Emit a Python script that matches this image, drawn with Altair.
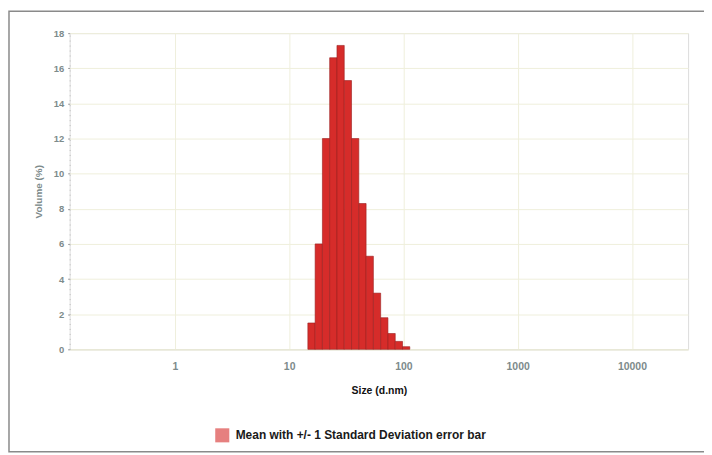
import altair as alt
import pandas as pd
import numpy as np

# Bin centres (d.nm) and volume (%)
sizes = [15.69, 18.17, 21.04, 24.36, 28.21, 32.67, 37.84, 43.82, 50.75, 58.77, 68.06, 78.82, 91.28, 105.7]
volume = [1.5, 6.0, 12.0, 16.6, 17.3, 15.3, 12.0, 8.3, 5.3, 3.2, 1.8, 0.9, 0.45, 0.15]
series = "Mean with +/- 1 Standard Deviation error bar"
x_ticks = [1, 10, 100, 1000, 10000]
y_ticks = [0, 2, 4, 6, 8, 10, 12, 14, 16, 18]

step = np.log10(sizes[1] / sizes[0]) / 2
df = pd.DataFrame({
    "lo": [s / 10 ** step for s in sizes],
    "hi": [s * 10 ** step for s in sizes],
    "vol": volume,
    "series": [series] * len(sizes),
})

W, H = 622, 318
FONT = "Liberation Sans"
GRAY = "#7d8b8b"

bars = alt.Chart(df).mark_rect(stroke="#9a1f1f", strokeWidth=0.6).encode(
    x=alt.X("lo:Q", scale=alt.Scale(type="log", domain=[0.12, 31000], nice=False),
            axis=alt.Axis(values=x_ticks, format="d", title="Size (d.nm)",
                          labelColor=GRAY, labelFontWeight="bold", labelFontSize=10.5,
                          labelFont=FONT, titleFont=FONT, titleFontSize=10.5,
                          titleFontWeight="bold", titleColor="#111111",
                          titlePadding=14, labelPadding=12,
                          domainColor="#e6e6d2", ticks=False,
                          gridColor="#efefdc", grid=True)),
    x2="hi:Q",
    y=alt.Y("vol:Q", scale=alt.Scale(domain=[0, 18], nice=False),
            axis=alt.Axis(values=y_ticks, title="Volume (%)", labelColor=GRAY,
                          labelFontWeight="bold", labelFontSize=9.5, labelFont=FONT,
                          titleFont=FONT, titleFontSize=10, titleFontWeight="bold",
                          titleColor=GRAY, titlePadding=10, labelPadding=4,
                          domainColor="#bbbbbb", domainDash=[1, 4], tickSize=2,
                          tickColor="#999999", gridColor="#efefdc")),
    y2=alt.datum(0),
    fill=alt.Fill("series:N", scale=alt.Scale(range=["#d62c2a"]),
                  legend=alt.Legend(orient="none", legendX=146, legendY=397, title=None,
                                    symbolType="square", symbolSize=200,
                                    symbolOpacity=0.6, symbolStrokeWidth=0,
                                    labelFont=FONT, labelFontSize=12,
                                    labelFontWeight="bold", labelColor="#1a1a1a",
                                    labelOffset=6, labelLimit=400)),
)

frame = alt.Chart(pd.DataFrame({"k": [0]})).mark_rect(
    filled=False, stroke="#8a8a8a", strokeWidth=1.5
).encode(x=alt.value(-61), x2=alt.value(641), y=alt.value(-22), y2=alt.value(421))

chart = alt.layer(bars, frame).properties(
    width=W, height=H,
    autosize=alt.AutoSizeParams(type="none"),
    padding={"left": 62, "top": 24, "right": 16, "bottom": 105},
).configure_view(stroke=None).configure(background="white")

chart.save("out.html", embed_options={"renderer": "svg", "actions": False})
